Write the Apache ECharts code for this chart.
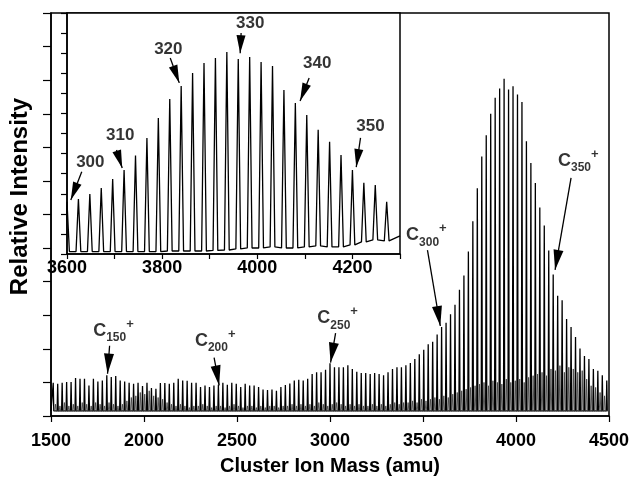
<!DOCTYPE html>
<html>
<head>
<meta charset="utf-8">
<script src="https://cdn.jsdelivr.net/npm/echarts@6/dist/echarts.min.js"></script>
<style>html,body{margin:0;padding:0;background:#fff}#main{width:633px;height:481px}</style>
</head>
<body>
<div id="main"></div>
<script>
// C(even) cluster peaks, one every C2 = 24 amu
var firstMass = 1512, massStep = 24;
var mainPeaks = [
    0.99,0.96,0.99,1.01,1.01,1.13,1.11,1.11,0.91,1.11,1.03,1.06,1.21,1.16,1.19,1.06,
    1.03,0.99,0.96,0.99,0.89,0.99,0.83,0.81,0.98,0.98,
    0.96,0.99,1.11,1.06,1.05,0.99,0.99,0.86,0.91,0.86,0.91,
    0.93,0.99,0.93,0.99,0.96,0.86,0.96,0.91,0.91,0.86,0.79,0.77,0.79,0.75,0.86,0.92,0.97,
    1.06,1.08,1.06,1.11,1.25,1.30,1.30,1.38,1.57,1.45,1.45,1.45,1.51,1.40,1.32,1.28,1.28,1.25,1.28,1.25,1.21,1.30,1.40,1.45,1.45,
    1.51,1.58,1.70,1.84,1.97,2.14,2.21,2.43,2.65,2.78,3.03,3.31,3.76,
    4.18,4.90,5.80,6.78,7.73,8.36,9.00,9.48,9.75,10.04,9.72,9.82,9.57,9.35,8.18,7.53,
    6.94,6.21,5.67,4.93,4.21,3.58,3.45,2.89,2.65,2.35,2.01,1.79,1.70,1.40,1.35,1.21,1.06
];
// small odd peaks half way between the main ones
var mainSatellites = [
    0.35,0.3,0.4,0.3,0.35,0.3,0.4,0.35,0.3,0.4,0.35,0.3,0.4,0.35,0.3,0.35,
    0.45,0.55,0.6,0.7,0.65,0.75,0.6,0.55,0.5,0.4,
    0.35,0.3,0.35,0.3,0.25,0.3,0.3,0.35,0.3,0.25,0.3,
    0.3,0.25,0.3,0.35,0.3,0.25,0.3,0.3,0.25,0.3,0.25,0.3,0.3,0.25,0.3,0.3,0.35,
    0.3,0.35,0.3,0.35,0.3,0.4,0.35,0.3,0.35,0.4,0.35,0.3,0.35,0.3,0.35,0.3,0.3,0.35,0.3,0.35,0.3,0.35,0.4,0.35,0.4,
    0.4,0.45,0.4,0.5,0.45,0.5,0.55,0.5,0.6,0.55,0.65,0.7,0.75,
    0.8,0.85,0.9,0.95,1.0,0.9,1.05,1.0,0.95,1.1,1.0,1.05,1.1,1.0,1.15,1.2,
    1.25,1.3,1.2,1.4,1.35,1.5,1.3,1.45,1.4,1.3,1.35,1.1,0.9,0.85,0.7,0.6,0.5
];
var mainFloor = 0.15;

// inset: 3600 - 4300 amu, C300 ... C356
var insetStart = 3600;
var insetPeaks = [
    2.6,2.74,2.99,3.29,3.73,4.18,4.9,5.78,6.77,7.72,8.37,9.01,9.51,9.76,10.06,
    9.71,9.81,9.56,9.36,8.17,7.52,6.92,6.18,5.59,4.93,4.18,3.55,3.44,2.6
];
var insetFloor = [
    0.12,0.12,0.12,0.12,0.12,0.12,0.12,0.12,0.12,0.15,0.15,0.15,0.15,0.18,0.2,
    0.25,0.3,0.3,0.35,0.3,0.3,0.35,0.4,0.35,0.35,0.45,0.6,0.7,0.65
];
var insetEnd = [4300, 0.9];

// annotations (data coordinates)
var mainLabelText = ['150', '200', '250', '300', '350'];
var mainLabelAt = [[1836, 2.53], [2383, 2.24], [3041, 2.91], [3518, 5.38], [4335, 7.59]];
var mainArrowFrom = [[1815, 2.09], [2377, 1.74], [3030, 2.47], [3524, 4.94], [4296, 7.09]];
var mainArrowTo = [[1804, 1.26], [2404, 0.91], [3003, 1.59], [3593, 2.68], [4210, 4.35]];

var insetLabelText = ['300', '310', '320', '330', '340', '350'];
var insetLabelAt = [[3649, 4.58], [3712, 5.93], [3813, 10.2], [3985, 11.5], [4126, 9.51], [4238, 6.37]];
var insetArrowFrom = [[3631, 4.10], [3704, 5.18], [3817, 9.76], [3966, 11.0], [4109, 8.76], [4217, 5.78]];
var insetArrowTo = [[3608, 2.69], [3716, 4.28], [3836, 8.52], [3964, 10.0], [4090, 7.62], [4208, 4.33]];

var font = 'Liberation Sans, Arial, sans-serif';

var peakLine = [[1500, mainFloor]];
var satLine = [];
for (var i = 0; i < mainPeaks.length; i++) {
    var m = firstMass + i * massStep;
    peakLine.push([m - 3, mainFloor], [m, mainPeaks[i]], [m + 3, mainFloor]);
    satLine.push([m + 8, mainFloor], [m + 12, mainSatellites[i]], [m + 16, mainFloor]);
}

var insetLine = [];
for (var k = 0; k < insetPeaks.length; k++) {
    var mi = insetStart + k * massStep;
    insetLine.push([mi - 5, insetFloor[k]], [mi, insetPeaks[k]], [mi + 5, insetFloor[k]]);
}
insetLine.push(insetEnd);

function arrows(from, to, w, h) {
    return from.map(function (p, i) {
        return [{coord: p, symbol: 'none'},
                {coord: to[i], symbol: 'path://M5,0 L10,20 L0,20 Z', symbolSize: [w, h], symbolOffset: [0, h / 2]}];
    });
}

var axisBlack = {lineStyle: {color: '#000', width: 1.5}};
var tickStyle = {color: '#000', width: 1.2};

var myChart = echarts.init(document.getElementById('main'));
var option = {
    animation: false,
    backgroundColor: '#fff',
    grid: [
        {left: 49, right: 24, top: 13, bottom: 60, show: true, borderColor: '#000', borderWidth: 1.5},
        {left: 67, top: 13, width: 333, height: 241, show: true, borderColor: '#000', borderWidth: 1.5, backgroundColor: '#fff'}
    ],
    xAxis: [{
        gridIndex: 0, type: 'value', min: 1500, max: 4500, interval: 500,
        axisLine: axisBlack,
        axisTick: {inside: false, length: 6, lineStyle: tickStyle},
        axisLabel: {
            margin: 16, color: '#000', fontSize: 18, fontWeight: 'bold', fontFamily: font,
            formatter: function (v) { return String(v); }
        },
        splitLine: {show: false},
        name: 'Cluster Ion Mass (amu)', nameLocation: 'middle', nameGap: 40,
        nameTextStyle: {color: '#000', fontSize: 20, fontWeight: 'bold', fontFamily: font}
    }, {
        gridIndex: 1, type: 'value', min: 3600, max: 4300, interval: 100,
        axisLine: axisBlack,
        axisTick: {inside: false, length: 5, lineStyle: tickStyle},
        axisLabel: {
            margin: 5, color: '#000', fontSize: 18, fontWeight: 'bold', fontFamily: font,
            formatter: function (v) { return v % 200 === 0 ? String(v) : ''; }
        },
        splitLine: {show: false}
    }],
    yAxis: [{
        gridIndex: 0, type: 'value', min: 0, max: 12, interval: 1,
        axisLine: axisBlack,
        axisTick: {inside: false, length: 8, lineStyle: tickStyle},
        axisLabel: {show: false},
        splitLine: {show: false},
        name: 'Relative Intensity', nameLocation: 'middle', nameGap: 19,
        nameTextStyle: {color: '#000', fontSize: 24, fontWeight: 'bold', fontFamily: font, padding: [0, 0, 0, 36]}
    }, {
        gridIndex: 1, type: 'value', min: 0, max: 12, interval: 1,
        axisLine: axisBlack,
        axisTick: {inside: false, length: 6, lineStyle: tickStyle},
        axisLabel: {show: false},
        splitLine: {show: false}
    }],
    series: [{
        type: 'line', xAxisIndex: 0, yAxisIndex: 0,
        data: peakLine, showSymbol: false, symbol: 'none',
        lineStyle: {color: '#000', width: 1.3},
        markLine: {
            silent: true,
            lineStyle: {color: '#000', width: 1.3, type: 'solid'},
            label: {show: false},
            data: arrows(mainArrowFrom, mainArrowTo, 10, 20)
        }
    }, {
        type: 'line', xAxisIndex: 0, yAxisIndex: 0,
        data: satLine, showSymbol: false, symbol: 'none',
        lineStyle: {color: '#444', width: 0.9}
    }, {
        type: 'line', xAxisIndex: 1, yAxisIndex: 1,
        data: insetLine, showSymbol: false, symbol: 'none',
        lineStyle: {color: '#000', width: 1.3},
        markLine: {
            silent: true,
            lineStyle: {color: '#000', width: 1.3, type: 'solid'},
            label: {show: false},
            data: arrows(insetArrowFrom, insetArrowTo, 9, 18)
        }
    }, {
        type: 'scatter', xAxisIndex: 0, yAxisIndex: 0, symbolSize: 0, silent: true,
        data: mainLabelAt.map(function (p, i) { return [p[0], p[1], mainLabelText[i]]; }),
        label: {
            show: true, position: 'inside',
            formatter: function (p) { return '{c|C}{s|' + p.data[2] + '}{p|+}'; },
            rich: {
                c: {fontSize: 18, fontWeight: 'bold', color: '#000', fontFamily: font, lineHeight: 26, verticalAlign: 'middle'},
                s: {fontSize: 12, fontWeight: 'bold', color: '#000', fontFamily: font, lineHeight: 12, verticalAlign: 'bottom'},
                p: {fontSize: 13, fontWeight: 'bold', color: '#000', fontFamily: font, lineHeight: 12, verticalAlign: 'top'}
            }
        }
    }, {
        type: 'scatter', xAxisIndex: 1, yAxisIndex: 1, symbolSize: 0, silent: true,
        data: insetLabelAt.map(function (p, i) { return [p[0], p[1], insetLabelText[i]]; }),
        label: {
            show: true, position: 'inside', color: '#000',
            fontSize: 17, fontWeight: 'bold', fontFamily: font,
            formatter: function (p) { return p.data[2]; }
        }
    }]
};
myChart.setOption(option);
</script>
</body>
</html>
